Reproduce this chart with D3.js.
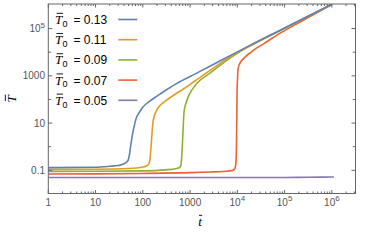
<!DOCTYPE html>
<meta charset="utf-8">
<html>
<head>
<title>T vs t</title>
<style>
  body { margin: 0; background: #fff; }
  svg { display: block; }
  .tick text { font-family: "Liberation Sans", Arial, sans-serif; font-size: 10px; fill: #555; }
</style>
<script src="https://cdn.jsdelivr.net/npm/d3@7"></script>
</head>
<body>
<svg width="375" height="241"></svg>
<script>

// series: [t, T]
var seriesNames = ["0.13", "0.11", "0.09", "0.07", "0.05"];
var colors = ["#5E81B5", "#E19C24", "#8FB032", "#EB6235", "#8778B3"];

var blueT = [1, 10, 20, 30, 38, 45, 49, 52, 55, 59, 63, 68, 74, 80, 90, 102, 120, 140, 196, 300, 514, 1380, 5000, 18000, 100000, 1000000];
var blueV = [0.13, 0.135, 0.148, 0.16, 0.18, 0.22, 0.27, 0.45, 1, 2.5, 5, 10, 18, 24, 35, 49, 67, 85, 135, 240, 470, 1300, 5000, 19000, 106000, 1070000];

var orangeT = [1, 10, 50, 101, 125, 136, 143, 148, 153, 158, 166, 172, 180, 196, 240, 318, 500, 710, 1200, 2640, 9600, 18000, 100000, 1000000];
var orangeV = [0.11, 0.112, 0.12, 0.139, 0.16, 0.195, 0.35, 0.8, 1.9, 5, 13, 18, 24, 35, 60, 93, 175, 270, 560, 1700, 9300, 18000, 104000, 1070000];

var greenT = [1, 10, 100, 300, 519, 600, 630, 660, 695, 715, 740, 770, 800, 912, 1100, 1380, 2640, 7000, 18400, 100000, 1000000];
var greenV = [0.09, 0.091, 0.095, 0.105, 0.12, 0.135, 0.15, 0.3, 1.9, 7, 25, 45, 60, 129, 260, 477, 1300, 5600, 18500, 103000, 1060000];

var redT = [1, 10, 100, 1000, 2640, 5000, 8100, 9000, 9300, 9500, 9600, 9750, 9900, 10100, 10400, 11500, 13200, 15500, 18400, 25000, 35100, 79000, 178000, 400000, 1000000];
var redV = [0.07, 0.071, 0.074, 0.08, 0.085, 0.09, 0.1, 0.13, 0.19, 0.5, 1.9, 20, 250, 800, 2100, 3600, 5100, 7000, 9100, 14500, 22000, 63000, 155000, 385000, 1050000];

var purpleT = [1, 10, 100, 1000, 10000, 100000, 300000, 1000000, 1100000];
var purpleV = [0.05, 0.05, 0.05, 0.05, 0.05, 0.05, 0.051, 0.052, 0.053];

var xTicks = [1, 10, 100, 1000, 1e4, 1e5, 1e6];
var xTickLabels = ["1", "10", "100", "1000", "10^4", "10^5", "10^6"];
var yTicks = [0.1, 1, 10, 100, 1000, 1e4, 1e5];
var yTickLabels = ["0.1", "", "10", "", "1000", "", "10^5"];

var series = [[blueT, blueV], [orangeT, orangeV], [greenT, greenV], [redT, redV], [purpleT, purpleV]];

var svg = d3.select("svg");
var pLeft = 48.3, pRight = 355.5, pTop = 4, pBottom = 193.5;

var x = d3.scaleLog().domain([1, Math.pow(10, 6.5)]).range([pLeft, pRight]);
var y = d3.scaleLog().domain([Math.pow(10, -1.98), Math.pow(10, 6.04)]).range([pBottom, pTop]);

svg.append("defs").append("clipPath").attr("id", "clip")
    .append("rect").attr("x", pLeft).attr("y", pTop).attr("width", pRight - pLeft).attr("height", pBottom - pTop);

var line = d3.line()
    .x(function(d) { return x(d[0]); })
    .y(function(d) { return y(d[1]); })
    .curve(d3.curveMonotoneX);

var g = svg.append("g").attr("clip-path", "url(#clip)");
// purple drawn first so the others sit on top like the picture
[4, 3, 2, 1, 0].forEach(function(i) {
    var pts = series[i][0].map(function(t, k) { return [t, series[i][1][k]]; });
    g.append("path")
        .attr("d", line(pts))
        .attr("fill", "none")
        .attr("stroke", colors[i])
        .attr("stroke-width", 1.6);
});

// frame
var frameColor = "#666";
svg.append("rect").attr("x", pLeft).attr("y", pTop).attr("width", pRight - pLeft).attr("height", pBottom - pTop)
    .attr("fill", "none").attr("stroke", frameColor).attr("stroke-width", 1);

// x minor ticks
var minor = [];
for (var p = 0; p < 7; p++) {
    for (var m = 2; m <= 9; m++) {
        var v = m * Math.pow(10, p);
        if (x(v) < pRight) minor.push(v);
    }
}
var tk = svg.append("g").attr("stroke", frameColor).attr("stroke-width", 1);
minor.forEach(function(v) {
    tk.append("line").attr("x1", x(v)).attr("x2", x(v)).attr("y1", pBottom).attr("y2", pBottom - 2);
    tk.append("line").attr("x1", x(v)).attr("x2", x(v)).attr("y1", pTop).attr("y2", pTop + 2);
});
xTicks.forEach(function(v) {
    tk.append("line").attr("x1", x(v)).attr("x2", x(v)).attr("y1", pBottom).attr("y2", pBottom - 3.5);
    tk.append("line").attr("x1", x(v)).attr("x2", x(v)).attr("y1", pTop).attr("y2", pTop + 3.5);
});
yTicks.forEach(function(v, i) {
    var len = yTickLabels[i] ? 4 : 2.7;
    tk.append("line").attr("x1", pLeft).attr("x2", pLeft + len).attr("y1", y(v)).attr("y2", y(v));
    tk.append("line").attr("x1", pRight).attr("x2", pRight - len).attr("y1", y(v)).attr("y2", y(v));
});

function writeLabel(sel, s) {
    var parts = s.split("^");
    sel.append("tspan").text(parts[0]);
    if (parts.length > 1) {
        sel.append("tspan").attr("dy", -4.5).attr("font-size", "8px").text(parts[1]);
    }
}

var labels = svg.append("g").attr("class", "tick");
xTicks.forEach(function(v, i) {
    var t = labels.append("text").attr("x", x(v)).attr("y", 205.5).attr("text-anchor", "middle");
    writeLabel(t, xTickLabels[i]);
});
yTicks.forEach(function(v, i) {
    if (!yTickLabels[i]) return;
    var t = labels.append("text").attr("x", 45).attr("y", y(v) + 3.5).attr("text-anchor", "end");
    writeLabel(t, yTickLabels[i]);
});

// barred italic letter
function barred(parent, ch, px, py, size, anchor) {
    var t = parent.append("text").attr("x", px).attr("y", py)
        .attr("font-family", "'Liberation Serif', 'Times New Roman', serif")
        .attr("font-style", "italic").attr("font-size", size + "px")
        .attr("text-anchor", anchor || "start").attr("fill", "#000").text(ch);
    var b = t.node().getBBox();
    parent.append("line")
        .attr("x1", b.x + b.width * 0.2).attr("x2", b.x + b.width * 1.0)
        .attr("y1", py - size * 0.82).attr("y2", py - size * 0.82)
        .attr("stroke", "#000").attr("stroke-width", 0.9);
    return b;
}

// axis labels
barred(svg, "t", 200, 226, 13, "middle");
var yl = svg.append("g").attr("transform", "translate(16,99) rotate(-90)");
barred(yl, "T", 0, 0, 13, "middle");

// legend
var legend = svg.append("g");
seriesNames.forEach(function(name, i) {
    var cy = 19.5 + i * 20.2;
    var base = cy + 4.5;
    var row = legend.append("g");
    var b = barred(row, "T", 55, base, 13);
    row.append("text").attr("x", b.x + b.width - 0.5).attr("y", base + 2.8)
        .attr("font-family", "'Liberation Sans', Arial, sans-serif").attr("font-size", "9px")
        .attr("fill", "#000").text("0");
    row.append("text").attr("x", 73.5).attr("y", base)
        .attr("font-family", "'Liberation Sans', Arial, sans-serif").attr("font-size", "12px")
        .attr("fill", "#000").text("= " + name);
    row.append("line").attr("x1", 118.3).attr("x2", 137.3).attr("y1", cy).attr("y2", cy)
        .attr("stroke", colors[i]).attr("stroke-width", 1.6);
});

</script>
</body>
</html>
